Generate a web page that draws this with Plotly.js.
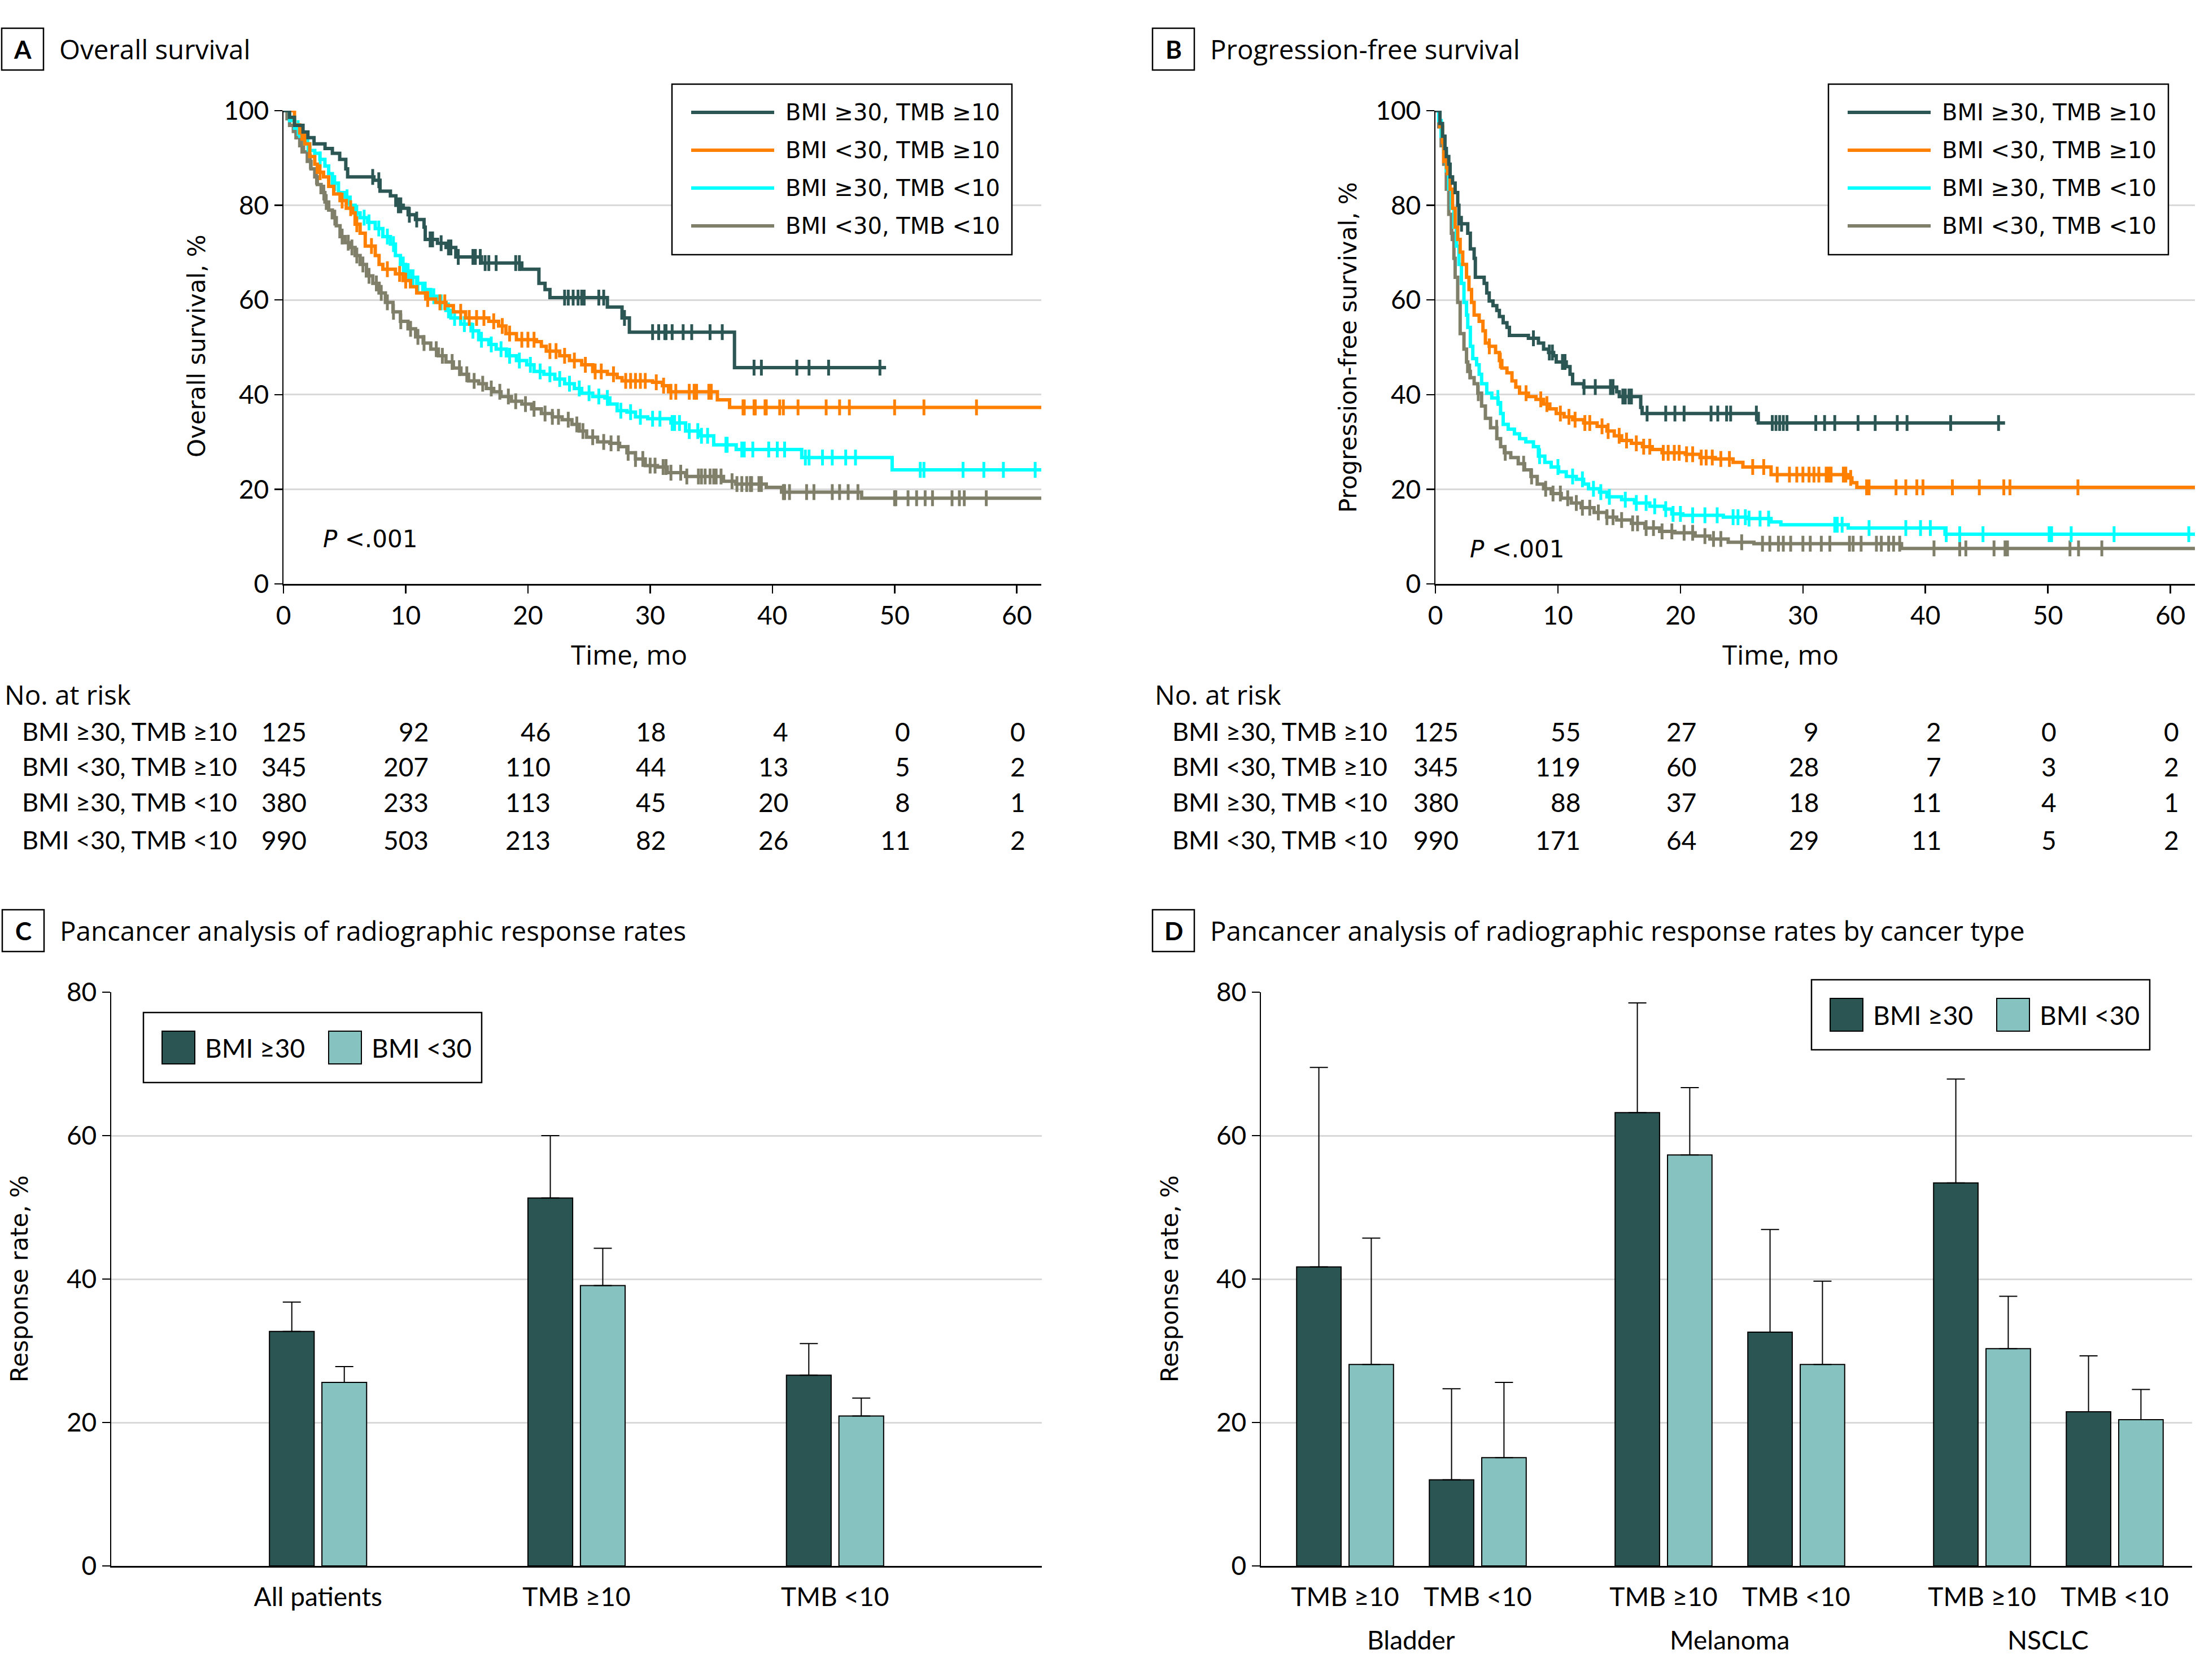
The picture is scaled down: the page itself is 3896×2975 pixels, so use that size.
<!DOCTYPE html>
<html>
<head>
<meta charset="utf-8">
<script src="https://cdn.plot.ly/plotly-3.0.1.min.js"></script>
<style>body{margin:0;background:#fff}</style>
</head>
<body>
<div id="chart" style="width:3896px;height:2975px"></div>
<script>
var W = 3896, H = 2975;
var FONT = 'Lato, "Open Sans", sans-serif';
var HEAD = '"Open Sans", Lato, sans-serif';
var WIDE = '"DejaVu Sans", Verdana, sans-serif';

// groups for the survival curves
var groupNames = ['BMI ≥30, TMB ≥10', 'BMI <30, TMB ≥10', 'BMI ≥30, TMB <10', 'BMI <30, TMB <10'];
var groupColors = ['#2b5654', '#ff8000', '#00ffff', '#7f7f6a'];
var riskTimes = [0, 10, 20, 30, 40, 50, 60];

// overall survival, step times (mo) and survival after each step (%)
var osTime1 = [0.5, 0.9, 1.6, 2.0, 2.5, 3.4, 4.0, 4.6, 5.1, 5.25, 7.4, 7.9, 8.75, 9.2, 9.8, 10.2, 10.8, 11.5, 11.6, 12.6, 13.3, 14.1, 16.2, 19.5, 20.9, 21.4, 21.8, 26.5, 27.7, 28.3, 36.9];
var osSurv1 = [98.6, 96.9, 95.5, 94.3, 93.0, 92.0, 91.0, 89.7, 87.7, 86.0, 85.3, 83.0, 82.0, 80.0, 79.4, 78.0, 77.0, 75.4, 72.8, 72.0, 71.1, 69.1, 67.8, 66.5, 63.5, 62.2, 60.5, 58.5, 56.2, 53.2, 45.7];
var osCens1 = [7.3, 7.8, 9.4, 9.6, 10.3, 10.9, 12.0, 12.2, 12.9, 13.5, 13.7, 14.3, 15.5, 15.7, 16.1, 16.5, 16.8, 17.4, 19.0, 19.3, 23.0, 23.3, 23.7, 24.1, 24.4, 24.6, 25.8, 26.2, 27.9, 30.2, 30.7, 31.2, 31.3, 31.8, 32.7, 33.4, 34.9, 35.9, 38.5, 39.1, 42.0, 43.0, 44.6, 48.8];
var osEnd1 = 49.3;

var osTime2 = [0.9, 1.33, 1.74, 2.15, 2.56, 2.77, 3.28, 3.7, 4.11, 4.63, 5.14, 5.66, 5.86, 6.27, 6.69, 7.51, 7.82, 8.13, 9.16, 9.78, 10.4, 10.9, 11.64, 12.46, 13.29, 13.9, 14.9, 16.8, 17.6, 18.2, 19.06, 20.7, 21.1, 21.5, 22.6, 23.4, 24.4, 25.3, 26.5, 27.3, 27.7, 30.2, 31.0, 31.5, 35.5, 36.5];
var osSurv2 = [97.0, 95.3, 93.0, 90.3, 88.7, 87.0, 86.0, 84.0, 82.4, 81.0, 79.4, 78.4, 76.0, 74.1, 71.4, 69.4, 67.5, 66.5, 65.5, 64.1, 62.8, 61.5, 60.2, 59.5, 58.8, 57.5, 56.2, 55.5, 54.5, 52.9, 51.6, 51.2, 50.2, 49.2, 48.2, 47.2, 46.3, 44.9, 44.3, 43.6, 42.9, 42.6, 41.9, 40.6, 38.9, 37.3];
var osCens2 = [1.5, 3.0, 4.8, 5.5, 6.0, 7.2, 8.5, 9.5, 10.0, 11.8, 12.8, 13.2, 14.5, 15.2, 15.8, 16.4, 17.2, 17.9, 18.5, 19.5, 20.0, 20.5, 21.8, 22.3, 23.0, 23.8, 24.7, 25.5, 26.0, 27.0, 28.0, 28.4, 28.8, 29.2, 29.6, 30.5, 31.1, 31.7, 32.1, 33.2, 33.6, 33.8, 34.8, 35.0, 37.6, 37.7, 38.5, 38.6, 39.4, 39.5, 40.6, 40.9, 42.1, 44.4, 45.5, 46.3, 50.0, 52.4, 56.7];
var osEnd2 = 62;

var osTime3 = [0.5, 0.91, 1.33, 1.74, 2.15, 2.56, 2.98, 3.39, 3.7, 4.0, 4.5, 5.04, 5.45, 5.86, 6.27, 6.89, 7.51, 8.13, 8.75, 9.16, 9.57, 9.99, 10.4, 10.9, 11.4, 12.05, 12.67, 13.29, 13.7, 14.5, 15.35, 15.97, 16.8, 17.4, 18.24, 19.06, 19.9, 20.5, 21.3, 22.2, 23.0, 23.8, 24.4, 25.3, 26.3, 26.7, 27.3, 28.1, 28.8, 29.8, 31.7, 32.9, 34.0, 35.2, 37.04, 42.4, 49.8];
var osSurv3 = [97.9, 96.3, 94.6, 93.0, 91.6, 91.0, 89.7, 88.3, 86.7, 84.7, 82.7, 81.7, 80.0, 78.4, 77.4, 76.4, 75.1, 73.4, 71.8, 69.4, 67.5, 66.1, 64.8, 63.5, 62.2, 60.8, 59.5, 57.8, 56.2, 54.9, 53.5, 51.6, 50.6, 49.6, 48.2, 47.2, 46.3, 44.9, 44.3, 43.3, 42.3, 41.3, 40.3, 39.6, 39.3, 38.0, 36.6, 36.3, 35.3, 34.9, 34.0, 32.3, 31.3, 29.4, 28.4, 26.7, 24.1];
var osCens3 = [1.2, 2.0, 3.0, 4.2, 5.2, 6.0, 6.6, 7.0, 7.8, 8.5, 9.0, 9.8, 10.2, 10.6, 11.0, 11.6, 12.3, 12.9, 13.5, 14.0, 14.8, 15.5, 16.2, 17.0, 17.8, 18.5, 19.3, 20.2, 21.0, 21.8, 22.6, 23.4, 24.2, 25.0, 25.8, 26.5, 27.6, 28.4, 29.2, 30.2, 30.8, 31.8, 32.0, 32.4, 33.2, 33.9, 34.2, 34.7, 36.2, 36.3, 37.5, 37.7, 38.4, 39.7, 40.4, 41.0, 42.7, 43.0, 44.1, 44.9, 46.0, 46.8, 52.1, 52.4, 55.6, 57.3, 58.9, 61.5];
var osEnd3 = 62;

var osTime4 = [0.29, 0.5, 0.81, 1.12, 1.33, 1.64, 1.95, 2.25, 2.56, 2.77, 3.08, 3.39, 3.7, 4.0, 4.32, 4.63, 5.04, 5.45, 5.86, 6.27, 6.79, 7.31, 7.82, 8.34, 8.96, 9.57, 10.19, 10.81, 11.43, 12.05, 12.67, 13.29, 13.9, 14.52, 15.14, 15.97, 16.6, 17.2, 17.8, 18.65, 19.5, 20.3, 21.1, 22.0, 22.8, 23.6, 24.2, 24.8, 25.7, 26.7, 27.5, 28.1, 28.8, 29.6, 30.6, 31.4, 32.9, 36.0, 37.0, 39.5, 40.75, 47.3];
var osSurv4 = [98.3, 96.9, 95.6, 94.3, 92.6, 91.3, 89.3, 87.7, 86.0, 84.4, 82.7, 80.7, 79.0, 77.4, 75.7, 73.4, 72.1, 71.1, 69.4, 67.5, 65.1, 63.5, 61.5, 59.5, 57.5, 55.5, 53.9, 52.2, 50.9, 49.6, 48.2, 46.9, 45.6, 44.3, 42.9, 42.3, 41.3, 40.6, 39.6, 38.6, 38.0, 37.0, 36.0, 35.3, 34.7, 33.7, 32.3, 31.0, 30.0, 29.7, 29.0, 27.7, 26.4, 25.0, 24.7, 23.5, 22.7, 21.7, 21.1, 20.4, 19.4, 18.1];
var osCens4 = [1.0, 1.5, 2.2, 2.7, 3.3, 3.5, 4.2, 4.8, 5.3, 5.6, 6.0, 6.5, 7.0, 7.6, 8.0, 8.5, 9.0, 9.6, 10.4, 11.0, 11.5, 12.5, 13.0, 13.8, 14.4, 15.0, 15.6, 16.3, 17.0, 17.7, 18.4, 19.0, 19.8, 20.5, 21.4, 22.0, 22.5, 23.3, 24.0, 24.5, 25.3, 26.2, 26.8, 27.4, 28.2, 28.8, 29.4, 30.0, 30.4, 31.06, 31.3, 31.7, 32.5, 33.0, 33.95, 34.2, 34.5, 34.9, 35.2, 35.4, 35.8, 36.7, 37.1, 37.5, 37.9, 38.2, 38.3, 38.9, 39.1, 40.9, 41.0, 41.4, 42.8, 43.4, 44.9, 45.5, 46.2, 47.0, 50.0, 50.1, 51.1, 51.8, 52.5, 53.1, 54.7, 55.3, 55.7, 57.5, 62.1];
var osEnd4 = 62;

// progression-free survival
var pfsTime1 = [0.37, 0.58, 0.78, 0.89, 1.09, 1.2, 1.4, 1.61, 1.82, 1.92, 2.64, 2.85, 3.16, 3.26, 3.98, 4.19, 4.39, 4.7, 5.01, 5.22, 5.53, 5.84, 6.04, 7.59, 8.41, 8.83, 9.24, 9.65, 9.86, 10.68, 10.99, 11.2, 12.1, 14.8, 15.01, 16.76, 16.87, 26.35];
var pfsSurv1 = [97.3, 94.6, 92.0, 90.3, 88.7, 86.0, 84.7, 82.7, 80.0, 76.1, 74.1, 70.8, 68.8, 64.8, 63.5, 61.5, 59.8, 58.8, 57.8, 56.5, 55.2, 54.2, 52.5, 51.9, 50.9, 49.6, 48.9, 48.2, 46.9, 45.9, 44.3, 42.3, 41.6, 40.6, 39.6, 37.3, 36.0, 34.0];
var pfsCens1 = [2.13, 8.0, 9.3, 9.55, 10.37, 10.58, 12.13, 13.05, 14.29, 14.5, 15.3, 15.5, 15.8, 16.0, 17.28, 18.8, 19.55, 20.3, 22.5, 23.05, 23.77, 24.1, 26.2, 27.5, 27.8, 28.1, 28.4, 28.7, 31.05, 31.77, 32.6, 34.5, 35.9, 37.7, 38.5, 42.06, 45.97];
var pfsEnd1 = 46.5;

var pfsTime2 = [0.37, 0.58, 0.68, 0.99, 1.2, 1.4, 1.61, 1.82, 2.02, 2.23, 2.54, 2.74, 2.95, 3.16, 3.57, 3.88, 4.08, 4.39, 4.91, 5.22, 5.42, 5.84, 6.25, 6.56, 6.87, 7.59, 8.21, 8.83, 9.34, 9.86, 10.5, 11.2, 12.1, 13.2, 14.0, 14.6, 15.2, 16.0, 16.9, 17.7, 18.5, 20.4, 21.6, 22.85, 24.3, 25.1, 27.4, 33.7, 34.0, 34.4];
var pfsSurv2 = [96.6, 93.3, 89.3, 86.7, 83.4, 79.4, 75.4, 72.8, 70.1, 67.5, 64.8, 62.2, 59.5, 56.8, 55.5, 53.5, 50.9, 50.2, 48.9, 47.2, 45.6, 44.6, 42.9, 41.6, 40.3, 39.6, 39.0, 38.0, 37.0, 36.0, 35.3, 34.7, 34.0, 33.3, 32.3, 31.3, 30.3, 29.7, 29.0, 28.4, 27.7, 27.4, 26.7, 26.4, 25.7, 24.7, 23.1, 22.4, 21.4, 20.4];
var pfsCens2 = [0.89, 4.4, 5.3, 7.4, 8.6, 9.1, 10.2, 10.9, 11.4, 12.2, 12.6, 13.6, 14.1, 15.0, 15.6, 16.4, 17.0, 17.5, 18.6, 19.0, 19.5, 19.9, 20.5, 21.0, 21.7, 22.1, 22.6, 23.3, 24.0, 25.9, 26.8, 27.9, 28.9, 29.5, 30.0, 30.5, 30.9, 31.3, 31.9, 32.1, 32.3, 33.3, 33.5, 33.9, 35.2, 35.4, 37.6, 38.4, 39.3, 39.8, 42.2, 44.4, 46.4, 46.9, 52.45];
var pfsEnd2 = 62;

var pfsTime3 = [0.27, 0.47, 0.68, 0.89, 1.09, 1.3, 1.51, 1.71, 1.92, 2.12, 2.33, 2.54, 2.64, 2.85, 3.05, 3.36, 3.57, 3.77, 4.19, 4.6, 5.11, 5.32, 5.53, 5.94, 6.45, 6.87, 7.38, 8.0, 8.41, 8.93, 9.45, 10.06, 10.68, 11.5, 12.1, 12.5, 13.4, 14.0, 15.2, 16.25, 17.5, 18.7, 19.3, 20.2, 23.5, 25.5, 27.4, 28.2, 33.7, 41.6];
var pfsSurv3 = [97.9, 94.6, 91.3, 87.3, 83.4, 79.4, 75.4, 71.4, 67.5, 63.5, 59.5, 56.8, 54.2, 50.2, 47.6, 46.3, 44.3, 42.3, 40.3, 39.3, 38.3, 36.0, 33.7, 32.7, 31.7, 30.7, 30.0, 29.0, 27.0, 25.7, 24.7, 23.7, 22.7, 22.1, 21.1, 20.1, 19.4, 18.4, 17.8, 17.1, 16.4, 15.8, 14.8, 14.5, 14.1, 13.8, 13.1, 12.5, 11.8, 10.5];
var pfsCens3 = [5.1, 8.5, 10.0, 11.2, 12.0, 12.9, 13.5, 14.2, 15.5, 16.4, 17.2, 17.9, 18.8, 19.4, 20.0, 21.0, 22.0, 23.0, 24.3, 24.7, 25.3, 25.6, 26.5, 27.2, 32.6, 32.8, 33.2, 35.4, 38.4, 39.6, 40.4, 41.7, 42.8, 44.7, 50.1, 50.3, 51.9, 55.4, 61.5];
var pfsEnd3 = 62;

var pfsTime4 = [0.27, 0.47, 0.68, 0.89, 1.09, 1.3, 1.51, 1.61, 1.82, 2.02, 2.33, 2.54, 2.64, 2.85, 3.16, 3.46, 3.77, 4.08, 4.5, 5.01, 5.32, 5.63, 6.15, 6.76, 7.28, 7.8, 8.31, 8.83, 9.45, 10.27, 11.09, 11.9, 12.95, 13.98, 14.8, 16.0, 17.1, 18.3, 19.55, 21.2, 22.4, 23.9, 26.0, 38.05];
var pfsSurv4 = [96.6, 92.6, 88.7, 83.4, 78.1, 74.1, 68.8, 64.8, 59.5, 52.9, 49.6, 46.9, 44.9, 43.6, 42.3, 40.3, 37.6, 35.0, 33.0, 30.7, 29.0, 27.7, 26.7, 25.4, 24.1, 22.7, 21.1, 20.1, 19.1, 18.1, 17.1, 16.1, 15.1, 14.1, 13.5, 12.8, 11.8, 11.1, 10.8, 10.1, 9.5, 8.8, 8.5, 7.5];
var pfsCens4 = [1.35, 2.8, 3.5, 5.0, 5.7, 7.2, 7.85, 9.0, 9.6, 10.2, 10.8, 11.5, 12.0, 12.6, 13.3, 14.0, 14.5, 15.2, 16.1, 16.5, 17.2, 17.8, 18.5, 19.3, 20.3, 21.0, 22.0, 22.7, 23.3, 25.0, 26.7, 27.3, 28.0, 28.4, 29.0, 30.0, 30.6, 31.5, 32.2, 33.8, 34.1, 34.75, 36.0, 36.4, 37.0, 37.4, 37.9, 40.7, 42.8, 43.3, 45.6, 46.5, 46.7, 51.8, 52.5, 54.4, 62.2];
var pfsEnd4 = 62;

// numbers at risk
var osRisk1 = [125, 92, 46, 18, 4, 0, 0];
var osRisk2 = [345, 207, 110, 44, 13, 5, 2];
var osRisk3 = [380, 233, 113, 45, 20, 8, 1];
var osRisk4 = [990, 503, 213, 82, 26, 11, 2];
var pfsRisk1 = [125, 55, 27, 9, 2, 0, 0];
var pfsRisk2 = [345, 119, 60, 28, 7, 3, 2];
var pfsRisk3 = [380, 88, 37, 18, 11, 4, 1];
var pfsRisk4 = [990, 171, 64, 29, 11, 5, 2];

// response rates (%), bar value and upper CI
var bmiNames = ['BMI ≥30', 'BMI <30'];
var barColors = ['#2a5553', '#86c2c0'];
var pancancerCats = ['All patients', 'TMB ≥10', 'TMB <10'];
var pancancerHigh = [32.7, 51.3, 26.6];
var pancancerHighUpper = [36.8, 60.0, 31.0];
var pancancerLow = [25.6, 39.1, 20.9];
var pancancerLowUpper = [27.8, 44.3, 23.4];

var cancerTypes = ['Bladder', 'Melanoma', 'NSCLC'];
var tmbLabels = ['TMB ≥10', 'TMB <10'];
var typeHigh = [41.7, 12.0, 63.2, 32.6, 53.4, 21.5];
var typeHighUpper = [69.5, 24.7, 78.5, 46.9, 67.9, 29.3];
var typeLow = [28.1, 15.1, 57.3, 28.1, 30.3, 20.4];
var typeLowUpper = [45.7, 25.6, 66.7, 39.7, 37.6, 24.6];

//---------------- helpers ----------------
function px(x) { return x / W; }
function py(y) { return 1 - y / H; }

function stepLevel(times, surv, t) {
  var s = 100;
  for (var i = 0; i < times.length; i++) {
    if (times[i] <= t) s = surv[i];
  }
  return s;
}

function kmTraces(times, surv, cens, end, color, xa, ya) {
  var line = {
    x: [0].concat(times, [end]),
    y: [100].concat(surv, [surv[surv.length - 1]]),
    type: 'scatter', mode: 'lines',
    line: { shape: 'hv', color: color, width: 6 },
    xaxis: xa, yaxis: ya, showlegend: false, hoverinfo: 'skip',
  };
  var marks = {
    x: cens,
    y: cens.map(function (t) { return stepLevel(times, surv, t); }),
    type: 'scatter', mode: 'markers',
    marker: { symbol: 'line-ns', size: 20, color: color, line: { color: color, width: 5 } },
    cliponaxis: false,
    xaxis: xa, yaxis: ya, showlegend: false, hoverinfo: 'skip',
  };
  return [line, marks];
}

var data = [];
var osSets = [
  [osTime1, osSurv1, osCens1, osEnd1], [osTime2, osSurv2, osCens2, osEnd2],
  [osTime3, osSurv3, osCens3, osEnd3], [osTime4, osSurv4, osCens4, osEnd4],
];
var pfsSets = [
  [pfsTime1, pfsSurv1, pfsCens1, pfsEnd1], [pfsTime2, pfsSurv2, pfsCens2, pfsEnd2],
  [pfsTime3, pfsSurv3, pfsCens3, pfsEnd3], [pfsTime4, pfsSurv4, pfsCens4, pfsEnd4],
];
for (var g = 3; g >= 0; g--) {
  data = data.concat(kmTraces(osSets[g][0], osSets[g][1], osSets[g][2], osSets[g][3], groupColors[g], 'x', 'y'));
  data = data.concat(kmTraces(pfsSets[g][0], pfsSets[g][1], pfsSets[g][2], pfsSets[g][3], groupColors[g], 'x2', 'y2'));
}

function upperErr(vals, upper) {
  return upper.map(function (u, i) { return u - vals[i]; });
}
function zeros(n) { var z = []; for (var i = 0; i < n; i++) z.push(0); return z; }

function barTrace(xs, vals, upper, color, offset, width, xa, ya) {
  return {
    type: 'bar', x: xs, y: vals, offset: offset, width: width,
    marker: { color: color, line: { color: '#000', width: 2 } },
    error_y: { type: 'data', symmetric: false, array: upperErr(vals, upper), arrayminus: zeros(vals.length),
      color: '#000', thickness: 2, width: 16 },
    xaxis: xa, yaxis: ya, showlegend: false, hoverinfo: 'skip',
  };
}

// panel C
var catPos = pancancerCats.map(function (c, i) { return i; });
data.push(barTrace(catPos, pancancerHigh, pancancerHighUpper, barColors[0], -0.188, 0.173, 'x3', 'y3'));
data.push(barTrace(catPos, pancancerLow, pancancerLowUpper, barColors[1], 0.015, 0.173, 'x3', 'y3'));

// panel D: pairs of TMB groups per cancer type, wider gap between types
var groupStep = 2.4;
var typePos = [], typeTickText = [];
cancerTypes.forEach(function (ct, gi) {
  tmbLabels.forEach(function (lab, si) {
    typePos.push(gi * groupStep + si);
    typeTickText.push(lab);
  });
});
data.push(barTrace(typePos, typeHigh, typeHighUpper, barColors[0], -0.365, 0.335, 'x4', 'y4'));
data.push(barTrace(typePos, typeLow, typeLowUpper, barColors[1], 0.03, 0.335, 'x4', 'y4'));

//---------------- axes ----------------
function baseAxis() {
  return {
    showline: true, linecolor: '#000', linewidth: 2.5,
    ticks: 'outside', ticklen: 14, tickwidth: 2.5, tickcolor: '#000',
    tickfont: { family: FONT, size: 46, color: '#000' },
    zeroline: false, showgrid: false, fixedrange: true,
  };
}
function kmX(dom, anchor) {
  var a = baseAxis();
  a.domain = dom; a.anchor = anchor; a.range = [0, 62]; a.tickvals = riskTimes;
  return a;
}
function kmY(anchor) {
  var a = baseAxis();
  a.domain = [py(1034), py(196)]; a.anchor = anchor; a.range = [0, 100];
  a.tickvals = [0, 20, 40, 60, 80, 100];
  a.showgrid = true; a.gridcolor = '#d9d9d9'; a.gridwidth = 3;
  return a;
}
function barY(anchor) {
  var a = baseAxis();
  a.domain = [py(2773), py(1757)]; a.anchor = anchor; a.range = [0, 80];
  a.tickvals = [0, 20, 40, 60, 80];
  a.showgrid = true; a.gridcolor = '#d9d9d9'; a.gridwidth = 3;
  return a;
}

var xC = baseAxis();
xC.domain = [px(197), px(1845)]; xC.anchor = 'y3'; xC.range = [-0.8, 2.8];
xC.tickvals = catPos; xC.ticktext = pancancerCats; xC.ticks = ''; xC.ticklabelstandoff = 13;

var xD = baseAxis();
xD.domain = [px(2233), px(3882)]; xD.anchor = 'y4'; xD.range = [-0.634, 6.383];
xD.tickvals = typePos; xD.ticktext = typeTickText; xD.ticks = ''; xD.ticklabelstandoff = 13;

//---------------- text, boxes, legends ----------------
var annotations = [];
var shapes = [];

function text(t, x, y, opts) {
  var a = {
    text: t, x: px(x), y: py(y), xref: 'paper', yref: 'paper', showarrow: false,
    xanchor: 'left', yanchor: 'middle',
    font: { family: FONT, size: 46, color: '#000' },
  };
  for (var k in opts) a[k] = opts[k];
  annotations.push(a);
}
var headFont = { family: HEAD, size: 47.5, color: '#000' };

function panelHead(letter, title, bx, by) {
  shapes.push({ type: 'rect', xref: 'paper', yref: 'paper', x0: px(bx), x1: px(bx + 74), y0: py(by + 74), y1: py(by),
    line: { color: '#000', width: 2.5 } });
  text('<b>' + letter + '</b>', bx + 37, by + 37, { xanchor: 'center', font: { family: FONT, size: 44, color: '#000' } });
  text(title, bx + 100, by + 36, { font: headFont });
}
panelHead('A', 'Overall survival', 3, 50);
panelHead('B', 'Progression-free survival', 2041, 50);
panelHead('C', 'Pancancer analysis of radiographic response rates', 4, 1611);
panelHead('D', 'Pancancer analysis of radiographic response rates by cancer type', 2041, 1611);

// axis titles
var wideFont = { family: WIDE, size: 42, color: '#000' };
text('Overall survival, %', 348, 613, { xanchor: 'center', textangle: -90, font: wideFont });
text('Progression-free survival, %', 2388, 615, { xanchor: 'center', textangle: -90, font: wideFont });
text('Response rate, %', 34, 2265, { xanchor: 'center', textangle: -90, font: wideFont });
text('Response rate, %', 2071, 2265, { xanchor: 'center', textangle: -90, font: wideFont });
text('Time, mo', 1114, 1158, { xanchor: 'center', font: headFont });
text('Time, mo', 3153, 1158, { xanchor: 'center', font: headFont });
text('<i>P</i> <.001', 570, 955, { font: wideFont });
text('<i>P</i> <.001', 2601, 972, { font: wideFont });

// survival legends
function kmLegend(dx) {
  shapes.push({ type: 'rect', xref: 'paper', yref: 'paper', x0: px(1190 + dx), x1: px(1792 + dx), y0: py(451), y1: py(149),
    fillcolor: '#fff', line: { color: '#000', width: 2.5 } });
  groupNames.forEach(function (name, i) {
    var y = 199 + i * 67;
    shapes.push({ type: 'line', xref: 'paper', yref: 'paper', x0: px(1224 + dx), x1: px(1371 + dx), y0: py(y), y1: py(y),
      line: { color: groupColors[i], width: 6 } });
    text(name, 1389 + dx, y, { font: { family: WIDE, size: 40, color: '#000' } });
  });
}
kmLegend(0);
kmLegend(2048);

// bar legends
function barLegend(dx, dy) {
  shapes.push({ type: 'rect', xref: 'paper', yref: 'paper', x0: px(254 + dx), x1: px(853 + dx), y0: py(1917 + dy), y1: py(1793 + dy),
    fillcolor: '#fff', line: { color: '#000', width: 2.5 } });
  var sx = [287, 582];
  bmiNames.forEach(function (name, i) {
    shapes.push({ type: 'rect', xref: 'paper', yref: 'paper', x0: px(sx[i] + dx), x1: px(sx[i] + 58 + dx),
      y0: py(1884 + dy), y1: py(1826 + dy), fillcolor: barColors[i], line: { color: '#000', width: 2 } });
    text(name, sx[i] + 74 + dx, 1855 + dy, {});
  });
}
barLegend(0, 0);
barLegend(2954, -58);

// cancer type labels under tick pairs
cancerTypes.forEach(function (ct, gi) {
  annotations.push({ text: ct, x: gi * groupStep + 0.5, xref: 'x4', y: py(2903), yref: 'paper', showarrow: false,
    xanchor: 'center', yanchor: 'middle', font: { family: FONT, size: 46, color: '#000' } });
});

// numbers at risk tables
var rowY = [1295, 1357, 1420, 1487];
function riskTable(risks, xa, labelX, headX) {
  text('No. at risk', headX, 1229, { font: headFont });
  risks.forEach(function (row, r) {
    text(groupNames[r], labelX, rowY[r], { font: { family: FONT, size: 45, color: '#000' } });
  });
  riskTimes.forEach(function (t, c) {
    var maxLen = 0;
    risks.forEach(function (row) { maxLen = Math.max(maxLen, String(row[c]).length); });
    risks.forEach(function (row, r) {
      annotations.push({ text: String(row[c]), x: t, xref: xa, y: py(rowY[r]), yref: 'paper', showarrow: false,
        xanchor: 'right', yanchor: 'middle', xshift: maxLen * 12.5 + 5,
        font: { family: FONT, size: 46, color: '#000' } });
    });
  });
}
riskTable([osRisk1, osRisk2, osRisk3, osRisk4], 'x', 37, 6);
riskTable([pfsRisk1, pfsRisk2, pfsRisk3, pfsRisk4], 'x2', 2074, 2043);

var layout = {
  width: W, height: H,
  margin: { l: 0, r: 0, t: 0, b: 0 },
  paper_bgcolor: '#fff', plot_bgcolor: 'rgba(0,0,0,0)',
  font: { family: FONT, size: 46, color: '#000' },
  showlegend: false,
  barmode: 'overlay',
  xaxis: kmX([px(502), px(1844)], 'y'),
  yaxis: kmY('x'),
  xaxis2: kmX([px(2542), px(3887)], 'y2'),
  yaxis2: kmY('x2'),
  xaxis3: xC,
  yaxis3: barY('x3'),
  xaxis4: xD,
  yaxis4: barY('x4'),
  annotations: annotations,
  shapes: shapes,
};

Plotly.newPlot('chart', data, layout, { displayModeBar: false, staticPlot: true });
</script>
</body>
</html>
